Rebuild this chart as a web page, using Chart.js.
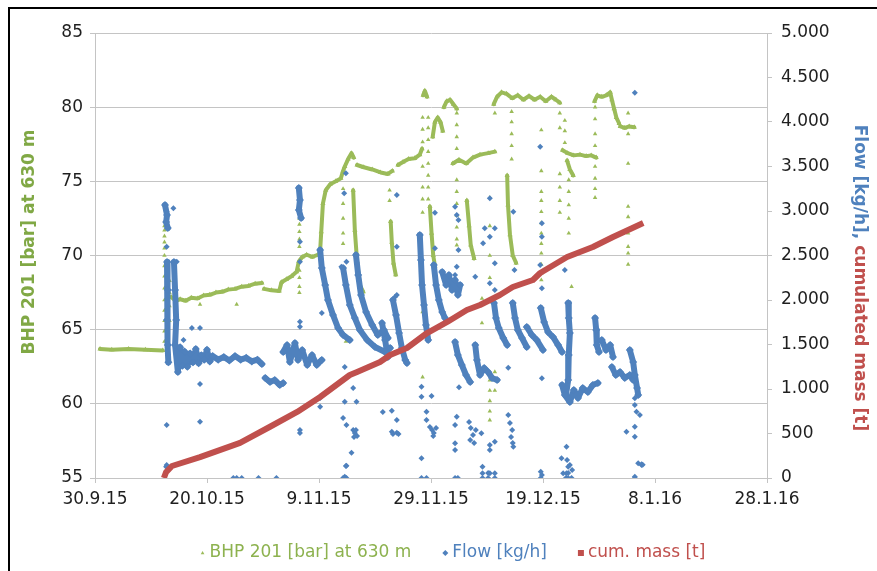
<!DOCTYPE html>
<html>
<head>
<meta charset="utf-8">
<title>BHP 201, flow and cumulated mass</title>
<script src="https://cdn.jsdelivr.net/npm/chart.js@4.4.1/dist/chart.umd.min.js"></script>
<style>
  html, body { margin: 0; padding: 0; background: #fff; }
  #plot { display: block; }
</style>
</head>
<body>
<canvas id="plot" width="877" height="571"></canvas>
<script>
// x values are days after 30.9.15
const xTickLabels = ['30.9.15', '20.10.15', '9.11.15', '29.11.15', '19.12.15', '8.1.16', '28.1.16'];
const seriesNames = ['BHP 201 [bar] at 630 m', 'Flow [kg/h]', 'cum. mass [t]'];
const leftTitle = 'BHP 201 [bar] at 630 m';
const rightTitle = ['Flow [kg/h], ', 'cumulated mass [t]'];

// BHP [bar]: dense stretches (drawn as thick traces) and single readings
const bhpBand = [
  [[0.9,63.7],[3,63.65],[6,63.7],[9,63.65],[12.1,63.6]],
  [[13.6,67.2],[14.4,66.95],[15.2,67.05],[16.2,66.95],[17.2,67.15],[18.3,67.1],[19.4,67.3],[20.5,67.35],[21.6,67.5],[22.7,67.55],[23.8,67.7],[25.0,67.75],[26.2,67.9],[27.4,67.95],[28.6,68.1],[29.8,68.15]],
  [[30.2,67.75],[31.5,67.65],[32.9,67.6],[33.3,68.2],[34.2,68.4],[35.1,68.6],[36.0,68.9],[36.4,69.6],[37.0,69.9],[37.8,70.05],[38.8,69.9],[39.8,70.05]],
  [[40.2,70.3],[40.4,71.6],[40.7,73.5],[41.2,74.4],[42.0,74.8],[43.0,75.0],[43.9,75.2],[44.3,75.7],[44.6,76.0],[45.2,76.5],[45.8,76.9],[46.2,76.6]],
  [[46.8,76.1],[48.0,75.95],[49.5,75.8],[51.0,75.6],[52.3,75.5],[53.1,75.7]],
  [[54.1,76.1],[55.0,76.3],[56.0,76.5],[57.1,76.55],[58.0,76.8],[58.4,77.2]],
  [[58.6,80.8],[58.9,81.1],[59.3,80.7]],
  [[60.3,78.0],[60.7,79.0],[61.2,79.3],[61.7,79.0],[62.1,78.4]],
  [[62.3,80.0],[62.8,80.4],[63.4,80.5],[64.0,80.2],[64.6,79.9]],
  [[63.9,76.2],[65.0,76.45],[66.3,76.2],[67.5,76.6],[68.75,76.8],[70.2,76.9],[71.4,77.0]],
  [[71.2,80.2],[71.8,80.7],[72.6,81.0],[73.5,80.9],[74.5,80.6],[75.5,80.8],[76.5,80.5],[77.5,80.75],[78.5,80.5],[79.5,80.7],[80.5,80.4],[81.5,80.7],[82.3,80.5],[83.0,80.3]],
  [[83.5,77.1],[84.4,76.9],[85.5,76.75],[86.6,76.8],[87.7,76.7],[88.6,76.75],[89.5,76.6]],
  [[89.2,80.4],[89.7,80.8],[90.5,80.7],[91.3,80.8],[92.0,81.0],[92.3,80.5],[92.7,79.9],[93.1,79.3],[93.6,78.9]],
  [[93.8,78.7],[94.6,78.6],[95.4,78.7],[96.3,78.65]],
  [[46.1,74.4],[46.4,71.7],[46.8,69.6],[47.3,68.0],[47.9,67.55]],
  [[52.8,72.3],[53.0,70.9],[53.3,69.5],[53.7,68.7]],
  [[59.8,73.3],[60.1,71.5],[60.4,70.0],[60.7,69.3]],
  [[66.4,73.7],[66.8,72.0],[67.1,70.7],[67.7,69.8]],
  [[73.6,75.4],[73.75,73.4],[74.1,71.4],[74.6,70.0],[75.2,69.5]],
  [[84.3,76.4],[84.8,75.8],[85.4,75.4]]
];

const bhpDots = [
  [12.4,64.2],[12.4,64.9],[12.4,65.6],[12.4,66.3],[12.4,67.0],[12.4,67.8],[12.4,68.6],[12.4,69.3],[12.4,70.0],[12.4,70.5],[12.4,70.9],[12.4,71.3],[12.4,71.7],[12.4,72.0],
  [12.9,65.2],[12.9,66.0],[12.9,66.8],[12.9,67.6],[12.9,68.4],[12.9,69.2],
  [13.3,65.6],[13.3,66.6],[13.3,67.5],[13.3,68.3],
  [18.75,66.7],[25.3,66.7],
  [36.5,67.5],[36.5,67.9],[36.5,68.5],[36.5,69.0],[36.5,70.6],[36.5,71.1],[36.5,71.6],[36.5,72.1],[36.5,72.5],
  [44.3,70.8],[44.3,71.5],[44.3,72.5],[44.3,73.5],[44.3,74.5],[44.8,64.2],
  [52.6,73.7],[52.6,74.4],
  [58.5,79.3],[58.5,78.5],[58.5,77.65],[58.5,76.0],[58.5,74.6],[58.5,73.8],[58.5,72.9],[58.5,66.2],[58.5,61.8],
  [59.5,79.3],[59.5,78.6],[59.5,77.8],[59.5,77.0],[59.5,76.2],[59.5,75.4],[59.5,74.6],[59.5,73.8],
  [64.6,79.6],[64.6,78.8],[64.6,78.0],[64.6,77.2],[64.6,75.1],[64.6,74.3],[64.6,73.5],[64.6,72.7],[64.6,71.9],[64.6,71.1],[64.6,70.7],[64.8,63.3],
  [69.1,67.1],[69.1,65.45],
  [70.5,73.9],[70.5,72.0],[70.5,70.0],[70.5,68.5],[70.5,61.6],[70.5,60.9],[70.5,60.2],[70.5,59.5],[70.5,58.9],
  [71.4,79.6],[71.4,62.15],[71.4,60.9],
  [74.4,79.7],[74.4,79.0],[74.4,78.2],[74.4,77.4],[74.4,76.5],
  [79.7,78.46],[79.7,75.7],[79.7,74.3],[79.7,73.7],[79.7,72.95],[79.7,72.2],[79.7,71.5],[79.7,70.8],[79.7,70.15],[79.7,69.4],[79.7,68.8],[79.7,68.35],
  [83.0,79.6],[83.0,78.6],[83.0,75.5],[83.0,74.6],[83.0,73.7],[83.0,72.9],
  [83.9,79.1],[83.9,78.4],[83.9,77.6],
  [84.6,75.1],[84.6,74.3],[84.6,73.4],[84.6,72.5],[84.6,71.5],[84.6,66.5],[84.6,65.5],[84.6,64.0],[84.6,63.2],[84.6,62.4],[84.6,62.1],[85.1,67.9],
  [89.3,80.0],[89.3,79.2],[89.3,78.2],[89.3,77.4],[89.3,76.0],[89.3,75.2],[89.3,74.5],[89.3,73.9],
  [95.2,79.6],[95.2,78.2],[95.2,76.2],[95.2,73.3],[95.2,72.6],[95.2,71.5],[95.2,70.6],[95.2,70.15],[95.2,69.4]
];

// Flow [kg/h]
const flowBand = [
  [[12.5,3067],[12.86,2955],[12.7,2876],[13.0,2809]],
  [[12.86,2427],[13.0,2112],[12.86,1775],[13.0,1494],[13.1,1300]],
  [[14.1,2427],[14.3,2112],[14.5,1775],[14.3,1494],[14.8,1191],[15.2,1470],[15.6,1260],[16.0,1420],[16.5,1250],[17.0,1400],[17.5,1300],[18.0,1450],[18.5,1290],[19.0,1380],[19.5,1330],[20.0,1440],[20.5,1310],[21.0,1370],[22.0,1330],[23.0,1360],[24.0,1320],[25.0,1370],[26.0,1330],[27.0,1350],[28.0,1310],[29.0,1330],[29.8,1280]],
  [[30.4,1124],[31.25,1079],[32.1,1101],[33.0,1045],[33.6,1067]],
  [[33.6,1416],[34.3,1494],[34.8,1303],[35.7,1517],[36.25,1326],[37.0,1438],[37.9,1270],[38.75,1382],[39.6,1270],[40.5,1326]],
  [[36.4,3258],[36.6,3124],[36.4,3011],[36.8,2921]],
  [[40.2,2562],[40.5,2360],[41.1,2169],[41.6,2000],[42.5,1832],[43.4,1685],[44.3,1607],[45.5,1550]],
  [[44.3,2360],[44.8,2169],[45.5,1944],[46.4,1798],[47.3,1663],[48.6,1550],[50.0,1472],[51.8,1416],[52.7,1461]],
  [[46.6,2506],[47.0,2281],[47.5,2056],[48.4,1865],[49.5,1719],[50.5,1607],[51.6,1663],[52.3,1573]],
  [[51.25,1742],[51.8,1550],[52.3,1360]],
  [[53.2,2000],[53.75,1831],[54.3,1629],[54.8,1461],[55.4,1326],[55.7,1292]],
  [[58.0,2730],[58.2,2450],[58.4,2169],[58.75,1944],[59.1,1719],[59.5,1550]],
  [[60.5,2393],[60.9,2169],[61.4,2000],[62.0,1865],[62.5,1798]],
  [[62.0,2315],[62.7,2169],[63.2,2281],[63.75,2112],[64.3,2225],[64.8,2056],[65.2,2169]],
  [[64.3,1528],[64.8,1382],[65.5,1270],[66.25,1157],[67.0,1079]],
  [[67.9,1494],[68.2,1326],[68.75,1157],[69.5,1236],[70.2,1191],[70.9,1124],[71.8,1101]],
  [[71.25,1966],[71.6,1798],[72.1,1685],[72.9,1573],[73.6,1494]],
  [[74.6,1966],[75.0,1798],[75.5,1663],[76.25,1573],[77.1,1472]],
  [[77.1,1697],[78.0,1607],[78.9,1550],[80.0,1438]],
  [[79.6,1910],[80.2,1753],[80.9,1640],[81.8,1584],[82.7,1494],[83.4,1416]],
  [[84.5,1966],[84.6,1798],[84.8,1629],[84.6,1382],[84.5,1101],[84.1,933]],
  [[83.4,1045],[83.9,933],[84.8,854],[85.5,989],[86.25,899],[87.1,1011],[88.0,966],[88.9,1045],[89.8,1067]],
  [[89.3,1798],[89.5,1663],[89.6,1494],[90.0,1416]],
  [[90.5,1550],[91.25,1438],[92.0,1494],[92.5,1360]],
  [[92.3,1247],[93.0,1157],[93.75,1191],[94.6,1124],[95.5,1157],[96.1,1101]],
  [[95.5,1438],[96.1,1303],[96.4,1157],[96.8,1011],[97.0,933]]
];

const flowDots = [
  [12.8,595],[12.8,146],[12.7,127],[12.8,2992],[12.8,2599],[14.0,3030],[14.6,2430],
  [18.75,633],[18.75,1056],[15.8,1550],[17.3,1685],[18.75,1685],
  [24.7,0],[25.3,0],[26.2,0],[29.2,0],[32.4,0],
  [36.6,2655],[36.6,2430],[36.6,1756],[36.6,1700],[36.6,539],[36.6,506],
  [40.2,899],[40.2,801],[40.5,1854],
  [44.8,3424],[44.5,3199],[44.9,2430],[44.0,2374],
  [44.6,1247],[46.1,1011],[44.6,857],[46.7,857],[44.3,674],[44.9,595],
  [46.1,539],[46.4,506],[46.8,472],[46.25,461],[46.6,539],
  [45.8,284],[44.9,138],[44.6,15],[44.3,0],[44.9,0],[44.8,135],
  [51.4,742],
  [53.9,3180],[53.9,2599],[53.6,2037],[53.9,2056],
  [53.0,757],[53.9,652],[53.0,520],[53.2,494],[53.9,509],[54.2,494],
  [58.3,1026],[58.3,913],[58.3,221],[58.3,0],[59.2,0],[60.1,921],[59.2,745],[59.2,652],
  [59.8,573],[60.2,539],[60.5,506],[60.9,562],[60.4,472],
  [60.7,2981],[60.7,2581],
  [64.3,3048],[64.6,2955],[64.9,2899],[64.9,2562],[64.6,2374],[64.3,2281],
  [64.6,689],[64.3,595],[64.3,390],[64.3,315],[65.0,1019],[64.3,0],[64.8,0],
  [66.8,629],[67.1,562],[67.5,483],[67.0,427],[67.7,393],[68.0,539],
  [67.9,2262],[69.3,2637],[69.6,2806],[70.5,3143],[70.5,2711],[71.4,2806],[71.4,2412],[70.5,2188],[71.4,2112],
  [69.0,502],[70.5,371],[70.5,315],[71.4,408],[70.5,52],[71.4,52],
  [69.2,127],[69.2,52],[69.2,0],[70.2,56],[70.2,0],[71.4,0],
  [73.8,1240],[73.8,708],[74.1,618],[74.5,539],[74.3,461],[74.6,393],[74.7,352],
  [74.7,2992],[74.9,2337],
  [79.5,3722],[79.8,2862],[79.8,2711],[79.5,2393],[79.8,2131],[79.8,1120],[79.8,34],[79.6,71],[79.6,0],
  [83.9,2337],
  [83.3,221],[84.2,352],[84.3,202],[84.8,146],[85.2,90],[84.5,56],[83.6,52],[84.1,0],[84.5,0],[85.1,0],[84.5,127],[84.2,52],
  [96.4,4329],
  [96.4,895],[96.4,820],[96.7,745],[97.3,708],[94.9,520],[96.4,577],[96.4,464],[97.0,165],[97.6,154],[96.4,15],[96.4,0],[97.6,146],[97.8,150]
];

// cumulated mass [t]
const massLine = [
  [12.3,0],[12.7,67],[13.75,135],[18.75,235],[25.9,395],[31.25,576],[36.1,742],[40.2,910],[45.5,1157],[46.8,1191],
  [50.9,1303],[52.7,1382],[55.7,1461],[59.3,1629],[62.9,1753],[66.4,1888],[68.75,1944],[72.3,2056],[74.6,2146],
  [78.2,2225],[79.5,2303],[84.3,2483],[88.9,2596],[92.5,2708],[97.9,2865]
];

const GREEN = '#9BBB59';
const BLUE = '#4F81BD';
const RED = '#C0504D';
const GRID = '#C4C4C4';
const TICK = '#1f1f1f';
const FONT = '"DejaVu Sans", Verdana, sans-serif';

Chart.defaults.font.family = FONT;
Chart.defaults.font.size = 17;

// segments joined with gap points so each stretch is drawn on its own
const withGaps = segs => segs.flatMap(s => [...s, [s[s.length - 1][0], null]]);

function formatThousands(v) {
  if (v < 1000) return String(v);
  return Math.floor(v / 1000) + '.' + String(v % 1000).padStart(3, '0');
}

const decorations = {
  id: 'decorations',
  afterDraw(chart) {
    const ctx = chart.ctx;
    ctx.save();

    // frame of the original picture
    ctx.fillStyle = '#000';
    ctx.fillRect(8, 7, 2, 571);
    ctx.fillRect(8, 7, 877, 2);

    // axis titles
    ctx.font = 'bold 17px ' + FONT;
    ctx.textBaseline = 'middle';
    ctx.save();
    ctx.translate(30, 242);
    ctx.rotate(-Math.PI / 2);
    ctx.textAlign = 'center';
    ctx.fillStyle = '#80A845';
    ctx.fillText(leftTitle, 0, 0);
    ctx.restore();

    ctx.save();
    ctx.translate(859, 278);
    ctx.rotate(Math.PI / 2);
    ctx.textAlign = 'left';
    const w1 = ctx.measureText(rightTitle[0]).width;
    const w2 = ctx.measureText(rightTitle[1]).width;
    let x = -(w1 + w2) / 2;
    ctx.fillStyle = BLUE;
    ctx.fillText(rightTitle[0], x, 0);
    ctx.fillStyle = RED;
    ctx.fillText(rightTitle[1], x + w1, 0);
    ctx.restore();

    // legend
    ctx.font = '17px ' + FONT;
    ctx.textAlign = 'left';
    const colors = [GREEN, BLUE, RED];
    const textColors = ['#8DB24F', BLUE, RED];
    const gapMarker = 7, gapItem = 34;
    const widths = seriesNames.map(t => ctx.measureText(t).width);
    const total = widths.reduce((a, b) => a + b, 0) + 3 * gapMarker + 2 * gapItem;
    let lx = 454 - total / 2;
    const ly = 553;
    seriesNames.forEach((name, i) => {
      ctx.fillStyle = colors[i];
      ctx.beginPath();
      if (i === 0) {
        ctx.moveTo(lx, ly - 2); ctx.lineTo(lx + 1.8, ly + 1.2); ctx.lineTo(lx - 1.8, ly + 1.2);
      } else if (i === 1) {
        ctx.moveTo(lx, ly - 3); ctx.lineTo(lx + 3, ly); ctx.lineTo(lx, ly + 3); ctx.lineTo(lx - 3, ly);
      } else {
        ctx.rect(lx - 3, ly - 3, 6, 6);
      }
      ctx.closePath();
      ctx.fill();
      ctx.fillStyle = textColors[i];
      ctx.fillText(name, lx + gapMarker, ly);
      lx += gapMarker + widths[i] + gapItem;
    });
    ctx.restore();
  }
};

new Chart(document.getElementById('plot'), {
  type: 'scatter',
  data: {
    datasets: [
      {
        type: 'line', label: seriesNames[2], data: massLine, yAxisID: 'y2',
        borderColor: RED, borderWidth: 6, pointRadius: 0, fill: false,
        borderJoinStyle: 'round', borderCapStyle: 'butt'
      },
      {
        label: seriesNames[1], data: flowDots, yAxisID: 'y2',
        pointStyle: 'rectRot', pointRadius: 3, backgroundColor: BLUE, borderColor: BLUE, borderWidth: 0
      },
      {
        type: 'line', label: seriesNames[1], data: withGaps(flowBand), yAxisID: 'y2',
        borderColor: BLUE, borderWidth: 6, fill: false, spanGaps: false,
        pointStyle: 'rectRot', pointRadius: 4, backgroundColor: BLUE, pointBorderWidth: 0,
        borderJoinStyle: 'round', borderCapStyle: 'round'
      },
      {
        label: seriesNames[0], data: bhpDots, yAxisID: 'y',
        pointStyle: 'triangle', pointRadius: 2.6, backgroundColor: GREEN, borderColor: GREEN, borderWidth: 0
      },
      {
        type: 'line', label: seriesNames[0], data: withGaps(bhpBand), yAxisID: 'y',
        borderColor: GREEN, borderWidth: 4, fill: false, spanGaps: false,
        pointStyle: 'triangle', pointRadius: 3, backgroundColor: GREEN, pointBorderWidth: 0,
        borderJoinStyle: 'round', borderCapStyle: 'round'
      }
    ]
  },
  options: {
    responsive: false,
    animation: false,
    devicePixelRatio: 1,
    layout: { padding: { left: 10, right: 0, top: 33, bottom: 53 } },
    plugins: { legend: { display: false }, tooltip: { enabled: false } },
    elements: { line: { tension: 0 } },
    scales: {
      x: {
        type: 'linear', min: 0, max: 120,
        afterBuildTicks: s => { s.ticks = xTickLabels.map((_, i) => ({ value: i * 20 })); },
        afterFit: s => { s.height = 40; },
        ticks: {
          callback: v => xTickLabels[Math.round(v / 20)],
          color: TICK, padding: 6, maxRotation: 0, autoSkip: false
        },
        grid: { drawOnChartArea: false, tickLength: 5, color: GRID },
        border: { color: GRID }
      },
      y: {
        position: 'left', min: 55, max: 85,
        afterFit: s => { s.width = 85; },
        ticks: { stepSize: 5, color: TICK, padding: 7 },
        grid: { color: GRID, tickLength: 5 },
        border: { color: GRID }
      },
      y2: {
        position: 'right', min: 0, max: 5000,
        afterFit: s => { s.width = 110; },
        ticks: { stepSize: 500, color: TICK, padding: 9, callback: formatThousands },
        grid: { drawOnChartArea: false, tickLength: 5, color: GRID },
        border: { color: GRID }
      }
    }
  },
  plugins: [decorations]
});
</script>
</body>
</html>
